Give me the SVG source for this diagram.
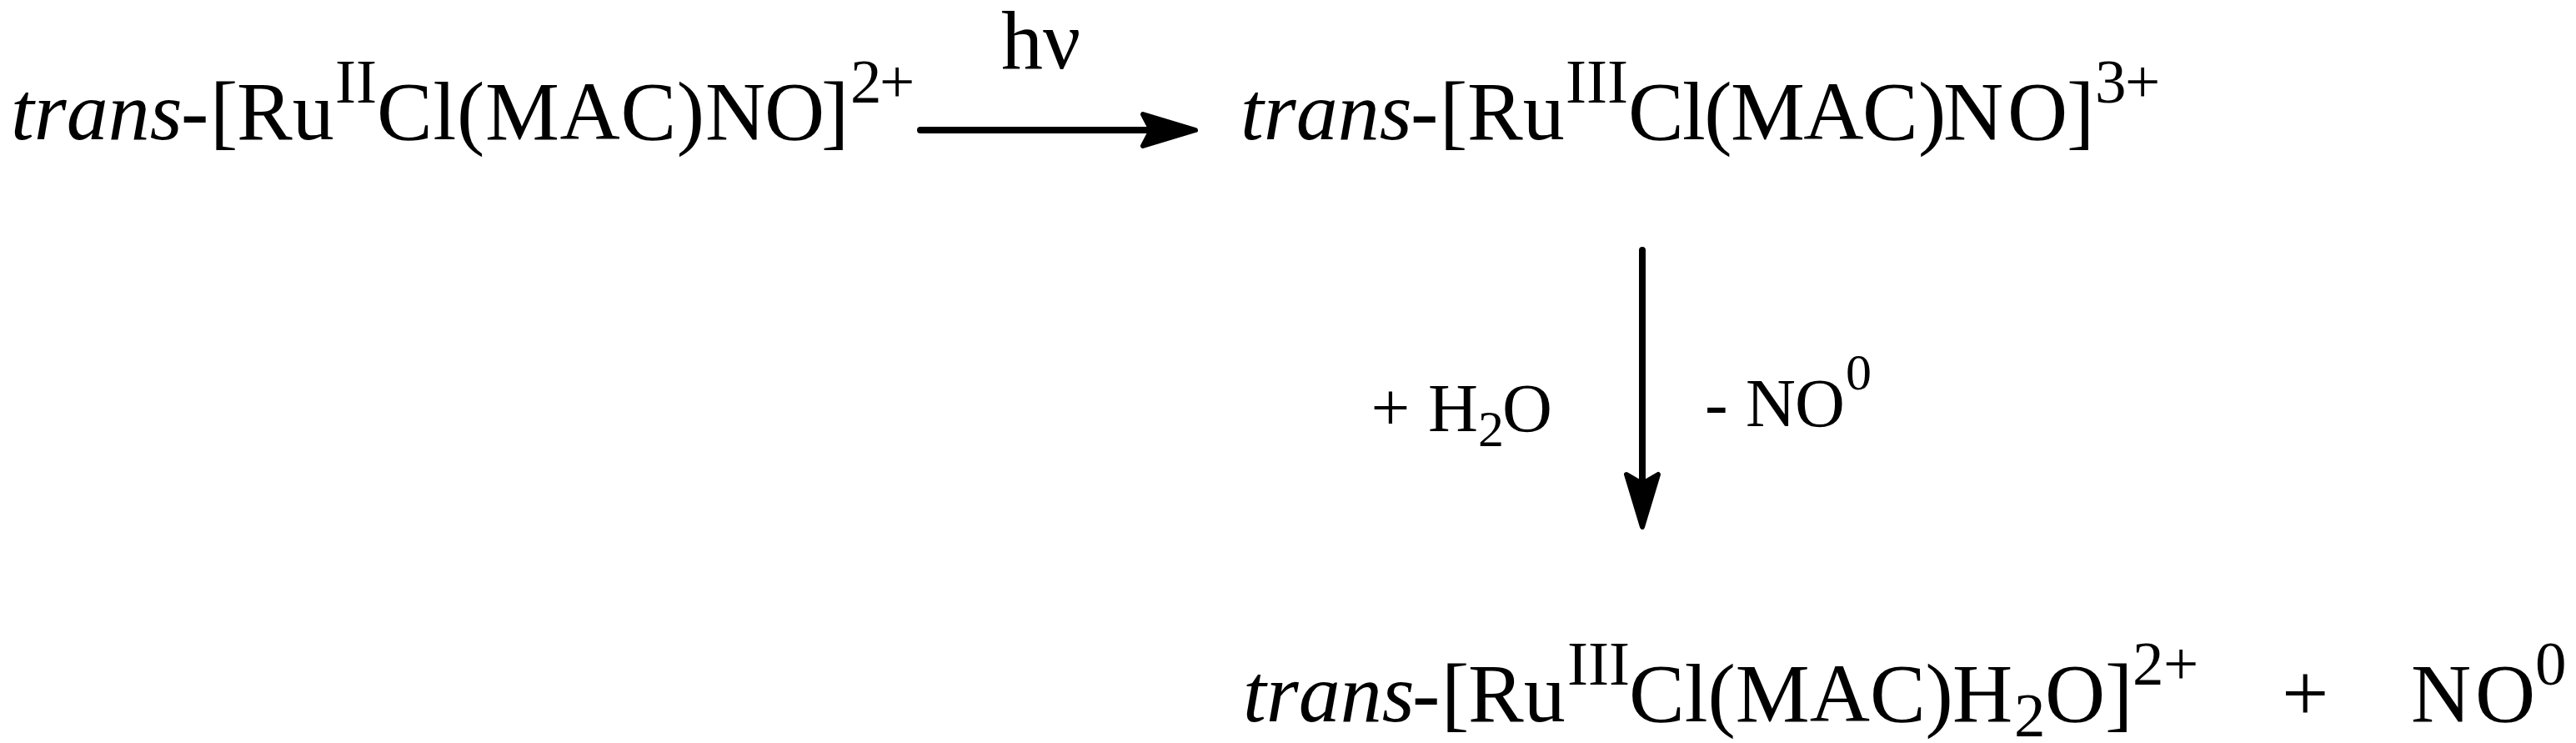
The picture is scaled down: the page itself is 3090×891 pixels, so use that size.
<svg xmlns="http://www.w3.org/2000/svg" width="3090" height="891" viewBox="0 0 3090 891">
<style>
text{font-family:"Liberation Serif","Times New Roman",serif;fill:#000;font-size:100px;font-kerning:none}
.i{font-style:italic}
.s{font-size:75px}
.m{font-size:83px}
.n{font-size:62px}
.c{fill:none;stroke:#000;stroke-width:8;stroke-linecap:round}
.h{fill:#000;stroke:#000;stroke-width:6;stroke-linejoin:round}
</style>
<rect width="3090" height="891" fill="#fff"/>
<g id="reactant">
<text y="167"><tspan x="13" class="i">trans</tspan><tspan x="217">-</tspan><tspan x="252">[</tspan><tspan x="284">Ru</tspan><tspan x="402" y="123" class="s">II</tspan><tspan x="452 519.4 547.9 581.9 671.5 744.4 811.8" y="167">Cl(MAC)</tspan><tspan x="846">N</tspan><tspan x="917">O</tspan><tspan x="985">]</tspan><tspan x="1020" y="123" class="s">2</tspan><tspan x="1055" y="123" class="s">+</tspan></text>
</g>
<g id="intermediate">
<text y="167"><tspan x="1488" class="i">trans</tspan><tspan x="1692">-</tspan><tspan x="1727">[</tspan><tspan x="1760">Ru</tspan><tspan x="1878" y="123" class="s">III</tspan><tspan x="1953 2018.1 2044.3 2076 2163.3 2233.9 2301" y="167">Cl(MAC)</tspan><tspan x="2331">N</tspan><tspan x="2408">O</tspan><tspan x="2479">]</tspan><tspan x="2513" y="123" class="s">3</tspan><tspan x="2549" y="123" class="s">+</tspan></text>
</g>
<g id="product">
<text y="865"><tspan x="1491" class="i">trans</tspan><tspan x="1694">-</tspan><tspan x="1729">[</tspan><tspan x="1761">Ru</tspan><tspan x="1880" y="821" class="s">III</tspan><tspan x="1954" y="865">Cl(MAC)</tspan><tspan x="2342">H</tspan><tspan x="2416" y="883" class="s">2</tspan><tspan x="2453" y="865">O</tspan><tspan x="2525">]</tspan><tspan x="2558" y="821" class="s">2</tspan><tspan x="2595" y="821" class="s">+</tspan></text>
</g>
<g id="plus"><text x="2737" y="865">+</text></g>
<g id="no">
<text y="865"><tspan x="2892">N</tspan><tspan x="2969">O</tspan><tspan x="3041" y="821" class="s">0</tspan></text>
</g>
<g id="hv"><text x="1201" y="82">hν</text></g>
<g id="water">
<text class="m" y="517"><tspan x="1644.5" y="516">+</tspan><tspan x="1713" y="517">H</tspan><tspan x="1773" y="535" class="n">2</tspan><tspan x="1802" y="517">O</tspan></text>
</g>
<g id="lost-no">
<text class="m" y="511"><tspan x="2045">-</tspan><tspan x="2094">N</tspan><tspan x="2153">O</tspan><tspan x="2214" y="467" class="n">0</tspan></text>
</g>
<g id="connectors">
<path class="c" d="M1104 156H1385"/>
<path class="h" d="M1434 156L1371 137L1381 156L1371 175Z"/>
<path class="c" d="M1970 300V590"/>
<path class="h" d="M1970 632L1951 569L1970 580L1989 569Z"/>
</g>
</svg>
